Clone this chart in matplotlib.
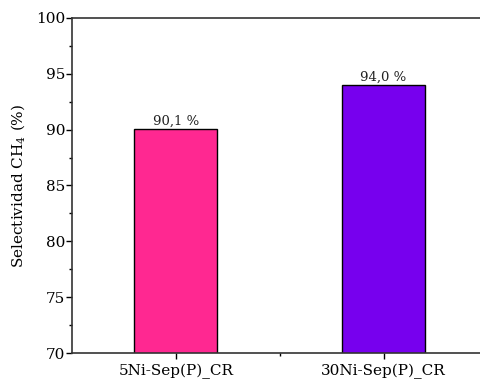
import matplotlib
matplotlib.use("Agg")
import matplotlib.pyplot as plt
from matplotlib.ticker import MultipleLocator, FixedLocator

categories = ["5Ni-Sep(P)_CR", "30Ni-Sep(P)_CR"]
selectivity = [90.1, 94.0]
value_labels = ["90,1 %", "94,0 %"]
bar_colors = ["#FF2891", "#7700EE"]
yticks = [70, 75, 80, 85, 90, 95, 100]

plt.rcParams["font.family"] = ["DejaVu Serif"]
plt.rcParams["mathtext.fontset"] = "dejavuserif"

fig = plt.figure(figsize=(4.8, 3.82), dpi=100)
ax = fig.add_axes([0.15, 0.0759, 0.8656, 0.877])

x = list(range(len(categories)))
ax.bar(x, selectivity, width=0.4, color=bar_colors, edgecolor="black", linewidth=1.0, zorder=2)
for xi, v, lab in zip(x, selectivity, value_labels):
    ax.text(xi, v + 0.1, lab, ha="center", va="bottom", fontsize=9.5, color="#222222")

ax.set_xlim(-0.5, 1.5)
ax.set_ylim(70, 100)
ax.set_xticks(x)
ax.set_xticklabels(categories, fontsize=11)
ax.xaxis.set_minor_locator(FixedLocator([0.5]))
ax.set_yticks(yticks)
ax.yaxis.set_minor_locator(MultipleLocator(2.5))
ax.tick_params(axis="both", which="major", direction="out", length=4, width=1, labelsize=11)
ax.tick_params(axis="x", which="major", pad=4)
ax.tick_params(axis="y", which="major", pad=1)
ax.tick_params(axis="both", which="minor", direction="out", length=2.5, width=1)
ax.set_ylabel("Selectividad CH$_4$ (%)", fontsize=11, labelpad=6)

for side in ["left", "bottom", "top", "right"]:
    ax.spines[side].set_linewidth(1.2)
    ax.spines[side].set_color("#333333")

fig.savefig("out.png", dpi=100)
